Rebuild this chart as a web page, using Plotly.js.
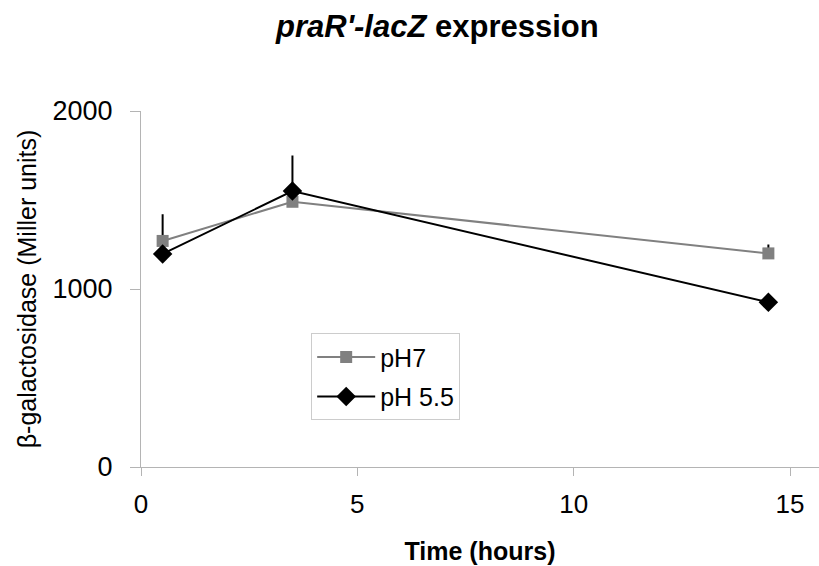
<!DOCTYPE html>
<html>
<head>
<meta charset="utf-8">
<script src="https://cdn.plot.ly/plotly-3.0.1.min.js"></script>
<style>html,body{margin:0;padding:0;background:#fff;}#chart{width:819px;height:566px;}</style>
</head>
<body>
<div id="chart"></div>
<script>
// Data
var timeHours = [0.5, 3.5, 14.5];
var pH7Values = [1270, 1490, 1200];
var pH7ErrPlus = [150, 0, 50];
var pH55Values = [1197, 1550, 925];
var pH55ErrPlus = [0, 200, 0];
var seriesNames = ['pH7', 'pH 5.5'];
var xTicks = [0, 5, 10, 15];
var yTicks = [0, 1000, 2000];

var FONT = '"Liberation Sans", Arial, Helvetica, sans-serif';

var traces = [
  {
    x: timeHours, y: pH7Values, name: seriesNames[0], legendgroup: 'a', type: 'scatter', mode: 'lines+markers',
    line: {color: '#808080', width: 2},
    marker: {symbol: 'square', size: 12, color: '#808080'},
    error_y: {type: 'data', symmetric: false, array: pH7ErrPlus, arrayminus: [0,0,0], color: '#000', thickness: 2, width: 0}
  },
  {
    x: timeHours, y: pH55Values, name: seriesNames[1], legendgroup: 'b', type: 'scatter', mode: 'lines+markers',
    line: {color: '#000000', width: 2},
    marker: {symbol: 'diamond', size: 15, color: '#000000'},
    error_y: {type: 'data', symmetric: false, array: pH55ErrPlus, arrayminus: [0,0,0], color: '#000', thickness: 2, width: 0}
  }
];

var layout = {
  width: 819, height: 566,
  paper_bgcolor: '#fff', plot_bgcolor: '#fff',
  font: {family: FONT, color: '#000', size: 26},
  margin: {l: 141, r: 0, t: 111, b: 99, pad: 0},
  title: {
    text: "<b><i>praR'-lacZ</i> expression</b>",
    font: {family: FONT, size: 31, color: '#000'},
    xref: 'container', yref: 'container', x: 0.337, xanchor: 'left', y: 0.954, yanchor: 'middle'
  },
  showlegend: true,
  legend: {
    x: 0.251, y: 0.376, xanchor: 'left', yanchor: 'top',
    bordercolor: '#cccccc', borderwidth: 1, bgcolor: '#fff',
    font: {family: FONT, size: 25, color: '#000'},
    tracegroupgap: 4,
    itemwidth: 58
  },
  xaxis: {
    range: [0, 15.67], tickvals: xTicks, ticktext: xTicks.map(String),
    showgrid: false, zeroline: false, showline: true, linecolor: '#b4b4b4', linewidth: 1,
    ticks: 'outside', ticklen: 8, tickcolor: '#b4b4b4', tickwidth: 1,
    tickfont: {family: FONT, size: 26, color: '#000'},
    ticklabelstandoff: 6,
    title: {text: '<b>Time (hours)</b>', font: {family: FONT, size: 25, color: '#000'}, standoff: 24},
    fixedrange: true
  },
  yaxis: {
    range: [0, 2000], tickvals: yTicks, ticktext: yTicks.map(String),
    showgrid: false, zeroline: false, showline: true, linecolor: '#b4b4b4', linewidth: 1,
    ticks: 'outside', ticklen: 10, tickcolor: '#b4b4b4', tickwidth: 1,
    tickfont: {family: FONT, size: 27, color: '#000'},
    ticklabelstandoff: 12,
    title: {text: 'β-galactosidase (Miller units)', font: {family: FONT, size: 25, color: '#000'}, standoff: 8},
    fixedrange: true
  }
};

Plotly.newPlot('chart', traces, layout, {displayModeBar: false, staticPlot: true});
</script>
</body>
</html>
